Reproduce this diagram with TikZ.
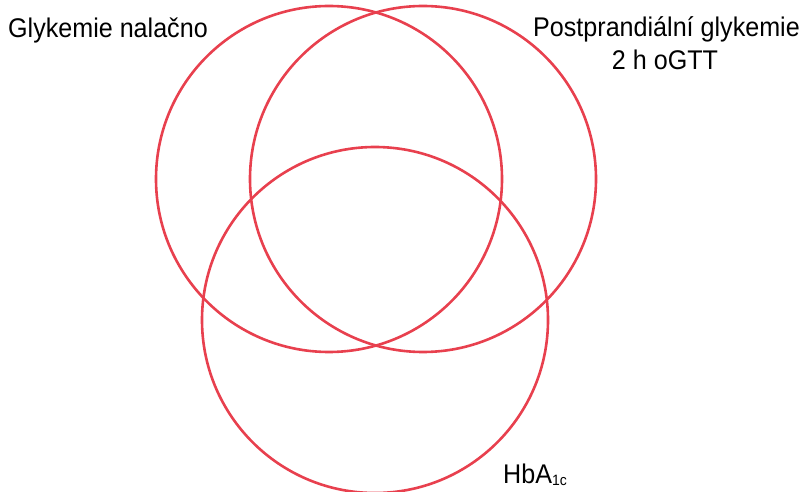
\documentclass[tikz,border=0pt]{standalone}
\usepackage{fontspec}
\setmainfont[FakeStretch=0.93]{Liberation Sans}
\definecolor{vennred}{RGB}{232,64,78}
\begin{document}
\begin{tikzpicture}[x=1pt,y=-1pt,
  ring/.style={draw=vennred,line width=2.6pt},
  lbl/.style={inner sep=0pt,font=\fontsize{27}{32}\selectfont,text=black}]
\useasboundingbox (0,0) rectangle (807,492);
\draw[ring] (329,179) circle[radius=173];
\draw[ring] (423,179) circle[radius=173];
\draw[ring] (375,320) circle[radius=173];
\node[lbl,anchor=base west] (fast) at (8,38) {Glykemie nalačno};
\node[lbl,anchor=base east] (post) at (800,37) {Postprandiální glykemie};
\node[lbl,anchor=base] (ogtt) at (665,70) {2 h oGTT};
\node[lbl,anchor=base west] (hba) at (503,483) {HbA\raisebox{-2pt}{\fontsize{15}{15}\selectfont 1c}};
\end{tikzpicture}
\end{document}
